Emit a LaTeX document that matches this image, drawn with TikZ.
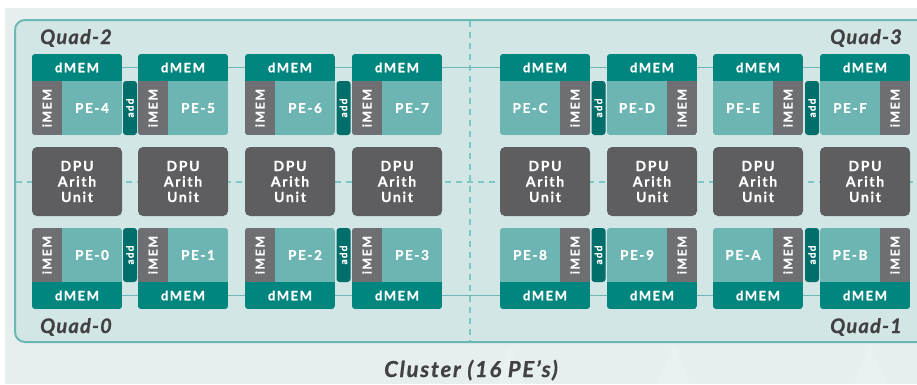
\documentclass[tikz,border=0pt]{standalone}
\usepackage{fontspec}
\setmainfont{Lato}
\newfontfamily\blkfont[LetterSpace=12,BoldFeatures={FakeBold=0.8}]{Lato}
\newfontfamily\qfont[LetterSpace=6,BoldItalicFeatures={FakeBold=0.8}]{Lato}
\newfontfamily\clfont[LetterSpace=8,BoldItalicFeatures={FakeBold=0.8}]{Lato}
\definecolor{dmemc}{RGB}{0,133,127}
\definecolor{pec}{RGB}{108,181,179}
\definecolor{imemc}{RGB}{110,111,114}
\definecolor{addc}{RGB}{0,111,107}
\definecolor{dpuc}{RGB}{94,94,96}
\definecolor{boxfill}{RGB}{210,231,229}
\definecolor{boxline}{RGB}{108,184,180}
\definecolor{bgc}{RGB}{230,238,238}
\definecolor{dashc}{RGB}{124,200,196}
\definecolor{txtc}{RGB}{65,64,66}
\definecolor{busc}{RGB}{108,184,180}
\pgfdeclarelayer{bglayer}
\pgfdeclarelayer{midlayer}
\pgfsetlayers{bglayer,midlayer,main}
\tikzset{
  dlab/.style={text=white, inner sep=0pt, font=\blkfont\bfseries\fontsize{13}{13}\selectfont},
  ilab/.style={dlab, rotate=90, font=\blkfont\bfseries\fontsize{12.5}{12}\selectfont},
  plab/.style={dlab, font=\blkfont\bfseries\fontsize{13.5}{12}\selectfont},
  addbox/.style={fill=addc, rounded corners=3pt, rotate=90, minimum width=54pt, minimum height=14pt,
    inner sep=0pt, text=white, font=\blkfont\bfseries\fontsize{10}{10}\selectfont},
  dpubox/.style={fill=dpuc, rounded corners=5pt, minimum width=90pt, minimum height=69pt, inner sep=0pt,
    align=center, text=white, font=\blkfont\bfseries\fontsize{14}{15.5}\selectfont},
  qlab/.style={text=txtc, inner sep=0pt, font=\qfont\bfseries\itshape\fontsize{20}{20}\selectfont},
  clab/.style={text=txtc, inner sep=0pt, font=\clfont\bfseries\itshape\fontsize{22}{22}\selectfont},
  busline/.style={draw=busc, line width=1.5pt},
  dashline/.style={draw=dashc, line width=1.2pt, dash pattern=on 6pt off 5pt}
}
% #1 name, #2 x-left, #3 block top y, #4 dMEM offset, #5 body offset, #6 iMEM offset, #7 label
\newcommand\peblk[7]{%
  \begin{scope}
    \clip[rounded corners=3pt] (#2,#3) rectangle ++(90,81);
    \fill[dmemc] (#2,#3+#4) rectangle ++(90,27);
    \fill[pec] (#2,#3+#5) rectangle ++(90,54);
    \fill[imemc] (#2+#6,#3+#5) rectangle ++(30,54);
  \end{scope}
  \node[dlab] (#1d) at (#2+45,#3+#4+13.5) {dMEM};
  \node[ilab] (#1i) at (#2+#6+15,#3+#5+27) {iMEM};
  \node[plab] (#1p) at (#2+60-#6/2,#3+#5+27) {#7};
}
\begin{document}
\begin{tikzpicture}[x=1pt,y=-1pt]
\useasboundingbox (0,0) rectangle (917,384);
\begin{pgfonlayer}{bglayer}
  \fill[white] (0,0) rectangle (917,384);
  \fill[bgc] (5,8) rectangle (917,384);
  \fill[white, opacity=0.18] (510,343) -- (497,384) -- (524,384) -- cycle;
  \fill[white, opacity=0.18] (674,343) -- (657,384) -- (690,384) -- cycle;
  \fill[white, opacity=0.18] (870,343) -- (854,384) -- (887,384) -- cycle;
  \begin{scope}
    \clip (0,0) rectangle (917,384);
    \filldraw[fill=boxfill, draw=boxline, line width=2pt, rounded corners=10pt] (15,20) rectangle (945,342);
  \end{scope}
  \draw[dashline] (470,21) -- (470,341);
  \draw[dashline] (16,182) -- (917,182);
\end{pgfonlayer}
% top row (Quad-2, Quad-3)
\peblk{p4}{32}{54}{0}{27}{0}{PE-4}
\peblk{p5}{138}{54}{0}{27}{0}{PE-5}
\peblk{p6}{245}{54}{0}{27}{0}{PE-6}
\peblk{p7}{352}{54}{0}{27}{0}{PE-7}
\peblk{pC}{500}{54}{0}{27}{60}{PE-C}
\peblk{pD}{607}{54}{0}{27}{60}{PE-D}
\peblk{pE}{713}{54}{0}{27}{60}{PE-E}
\peblk{pF}{820}{54}{0}{27}{60}{PE-F}
% bottom row (Quad-0, Quad-1)
\peblk{p0}{32}{228}{54}{0}{0}{PE-0}
\peblk{p1}{138}{228}{54}{0}{0}{PE-1}
\peblk{p2}{245}{228}{54}{0}{0}{PE-2}
\peblk{p3}{352}{228}{54}{0}{0}{PE-3}
\peblk{p8}{500}{228}{54}{0}{60}{PE-8}
\peblk{p9}{607}{228}{54}{0}{60}{PE-9}
\peblk{pA}{713}{228}{54}{0}{60}{PE-A}
\peblk{pB}{820}{228}{54}{0}{60}{PE-B}
% add units
\node[addbox] (a45) at (130,108) {add};
\node[addbox] (a67) at (343.5,108) {add};
\node[addbox] (aCD) at (598.5,108) {add};
\node[addbox] (aEF) at (812,108) {add};
\node[addbox] (a01) at (130,255) {add};
\node[addbox] (a23) at (343.5,255) {add};
\node[addbox] (a89) at (598.5,255) {add};
\node[addbox] (aAB) at (812,255) {add};
% DPU units
\foreach \n/\cx in {u1/77,u2/183,u3/290,u4/397,u5/545,u6/652,u7/758,u8/865}
  \node[dpubox] (\n) at (\cx,181.5) {DPU\\Arith\\Unit};
% bus lines
\begin{pgfonlayer}{midlayer}
  \path[busline] (p4d.center) -- (pFd.center);
  \path[busline] (p0d.center) -- (pBd.center);
\end{pgfonlayer}
% labels
\node[qlab, anchor=base west] (q2) at (40,44) {Quad-2};
\node[qlab, anchor=base east] (q3) at (902,44) {Quad-3};
\node[qlab, anchor=base west] (q0) at (40,333) {Quad-0};
\node[qlab, anchor=base east] (q1) at (902,333) {Quad-1};
\node[clab, anchor=base] (cl) at (471,377) {Cluster (16 PE’s)};
\end{tikzpicture}
\end{document}
